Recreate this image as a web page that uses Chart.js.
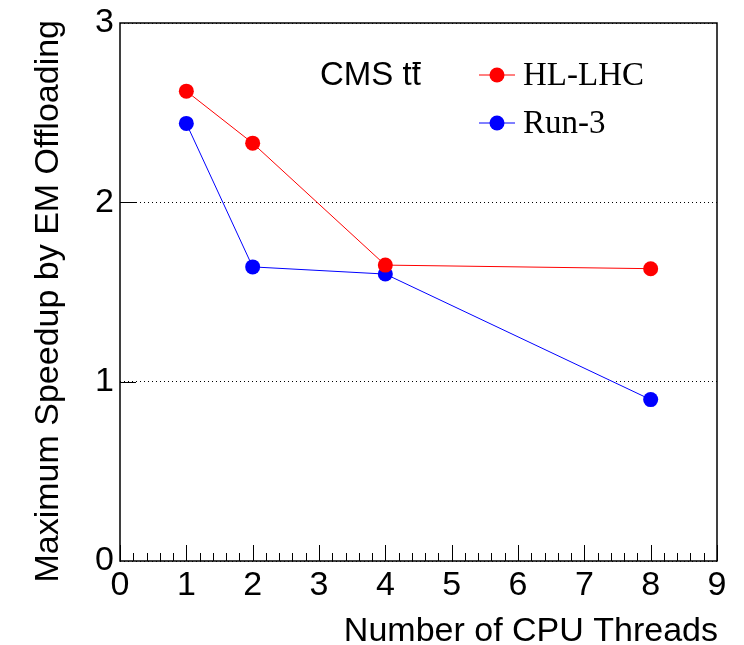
<!DOCTYPE html>
<html>
<head>
<meta charset="utf-8">
<script src="https://cdn.jsdelivr.net/npm/chart.js@4.4.1/dist/chart.umd.min.js"></script>
<style>
  html, body { margin: 0; padding: 0; background: #fff; }
  #wrap { width: 744px; height: 645px; }
</style>
</head>
<body>
<div id="wrap"><canvas id="c" width="744" height="645"></canvas></div>
<script>
// data
const threads = [1, 2, 4, 8];
const hlLhc = [2.62, 2.33, 1.65, 1.63];
const run3 = [2.44, 1.64, 1.60, 0.90];
const seriesNames = ['HL-LHC', 'Run-3'];
const seriesColors = ['#ff0000', '#0000ff'];
const xTitle = 'Number of CPU Threads';
const yTitle = 'Maximum Speedup by EM Offloading';

const SANS = '"Liberation Sans", Arial, Helvetica, sans-serif';
const SERIF = '"Liberation Serif", "Times New Roman", serif';

function pts(ys) {
    return threads.map(function(x, i) { return { x: x, y: ys[i] }; });
}

// frame, inner tick marks, titles, legend and label
const decor = {
    id: 'decor',
    beforeDatasetsDraw: function(chart) {
        const ctx = chart.ctx;
        const a = chart.chartArea;
        const xs = chart.scales.x, ys = chart.scales.y;
        ctx.save();
        ctx.strokeStyle = '#000';
        ctx.lineWidth = 1;
        ctx.beginPath();
        // x ticks, major every 1 and minor every 0.2, pointing up
        for (let i = 0; i <= 45; i++) {
            const v = i / 5;
            const px = Math.round(xs.getPixelForValue(v)) + 0.5;
            const len = (i % 5 === 0) ? 16 : 8;
            ctx.moveTo(px, a.bottom);
            ctx.lineTo(px, a.bottom - len);
        }
        // y major ticks pointing right
        for (let v = 1; v <= 2; v++) {
            const py = Math.round(ys.getPixelForValue(v)) + 0.5;
            ctx.moveTo(a.left, py);
            ctx.lineTo(a.left + 16, py);
        }
        ctx.stroke();
        ctx.lineWidth = 1.5;
        ctx.strokeRect(a.left, a.top, a.right - a.left, a.bottom - a.top);
        ctx.restore();
    },
    afterDraw: function(chart) {
        const ctx = chart.ctx;
        ctx.save();
        ctx.fillStyle = '#000';

        // axis titles
        ctx.font = '34px ' + SANS;
        ctx.textAlign = 'right';
        ctx.textBaseline = 'alphabetic';
        ctx.fillText(xTitle, 718, 641);

        ctx.save();
        ctx.translate(58, 20);
        ctx.rotate(-Math.PI / 2);
        ctx.textAlign = 'right';
        ctx.fillText(yTitle, 0, 0);
        ctx.restore();

        // CMS tt-bar
        ctx.font = '33px ' + SANS;
        ctx.textAlign = 'left';
        const base = 'CMS t';
        ctx.fillText(base + 't', 320, 85);
        const x0 = 320 + ctx.measureText(base).width;
        const w = ctx.measureText('t').width;
        ctx.fillRect(x0 + 1, 62, w - 1, 2);

        // legend
        const entries = [[75, 0], [123, 1]];
        entries.forEach(function(e) {
            const y = e[0], k = e[1];
            ctx.strokeStyle = seriesColors[k];
            ctx.lineWidth = 1;
            ctx.beginPath();
            ctx.moveTo(479, y);
            ctx.lineTo(515, y);
            ctx.stroke();
            ctx.fillStyle = seriesColors[k];
            ctx.beginPath();
            ctx.arc(497, y, 7.5, 0, Math.PI * 2);
            ctx.fill();
            ctx.fillStyle = '#000';
            ctx.font = '33px ' + SERIF;
            ctx.textBaseline = 'middle';
            ctx.fillText(seriesNames[k], 523, y + 1);
        });
        ctx.restore();
    }
};

const ctx = document.getElementById('c').getContext('2d');
new Chart(ctx, {
    type: 'scatter',
    data: {
        datasets: [{
            label: seriesNames[0],
            data: pts(hlLhc),
            showLine: true,
            borderColor: seriesColors[0],
            backgroundColor: seriesColors[0],
            borderWidth: 1,
            pointRadius: 7.5,
            pointBorderWidth: 0
        }, {
            label: seriesNames[1],
            data: pts(run3),
            showLine: true,
            borderColor: seriesColors[1],
            backgroundColor: seriesColors[1],
            borderWidth: 1,
            pointRadius: 7.5,
            pointBorderWidth: 0
        }]
    },
    options: {
        responsive: false,
        animation: false,
        layout: { padding: { top: 22, right: 27, left: 0, bottom: 0 } },
        plugins: {
            legend: { display: false },
            tooltip: { enabled: false }
        },
        scales: {
            x: {
                type: 'linear',
                min: 0, max: 9,
                afterFit: function(s) { s.height = 84; },
                grid: { display: false, drawTicks: false },
                border: { display: false },
                ticks: {
                    stepSize: 1,
                    padding: 8,
                    color: '#000',
                    font: { family: SANS, size: 34, lineHeight: 1 }
                }
            },
            y: {
                type: 'linear',
                min: 0, max: 3,
                afterFit: function(s) { s.width = 120; },
                grid: {
                    drawTicks: false,
                    color: '#000',
                    lineWidth: 1
                },
                border: { display: false, dash: [1, 3] },
                ticks: {
                    stepSize: 1,
                    padding: 6,
                    color: '#000',
                    font: { family: SANS, size: 34, lineHeight: 1 }
                }
            }
        }
    },
    plugins: [decor]
});
</script>
</body>
</html>
